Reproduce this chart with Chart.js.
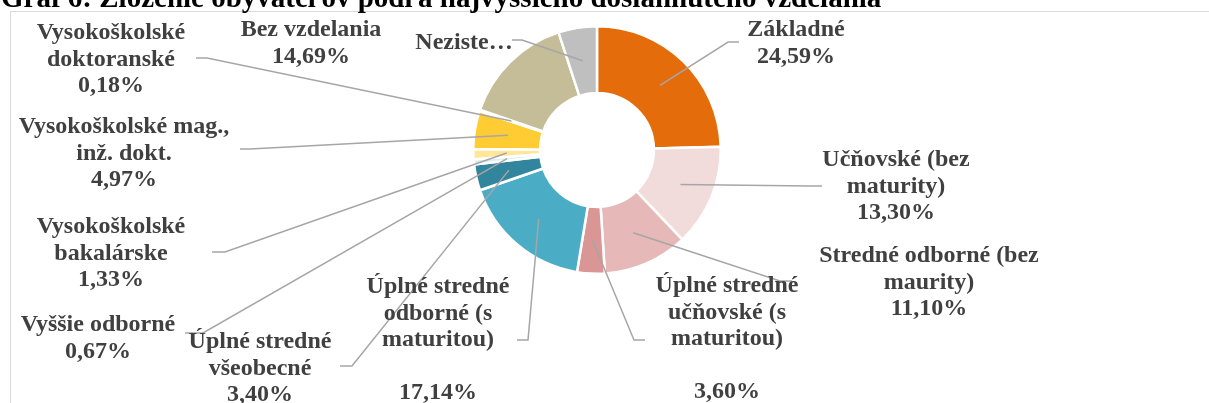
<!DOCTYPE html>
<html>
<head>
<meta charset="utf-8">
<script src="https://cdn.jsdelivr.net/npm/chart.js@4"></script>
<style>
  html, body { margin: 0; padding: 0; background: #fff; overflow: hidden; }
  #wrap { position: relative; width: 1209px; height: 403px; }
  #title {
    position: absolute; left: 1px; top: -19px; white-space: nowrap;
    font: bold 29px "Liberation Serif", "Times New Roman", serif; color: #000;
  }
  #chart { position: absolute; left: 0; top: 0; }
</style>
</head>
<body>
<div id="wrap">
  <canvas id="chart" width="1209" height="403"></canvas>
  <div id="title">Graf 6: Zloženie obyvateľov podľa najvyššieho dosiahnutého vzdelania</div>
</div>
<script>
// Data
const categories = [
  "Základné",
  "Učňovské (bez maturity)",
  "Stredné odborné (bez maurity)",
  "Úplné stredné učňovské (s maturitou)",
  "Úplné stredné odborné (s maturitou)",
  "Úplné stredné všeobecné",
  "Vyššie odborné",
  "Vysokoškolské bakalárske",
  "Vysokoškolské mag., inž. dokt.",
  "Vysokoškolské doktoranské",
  "Bez vzdelania",
  "Nezistené"
];
const shares = [24.59, 13.30, 11.10, 3.60, 17.14, 3.40, 0.67, 1.33, 4.97, 0.18, 14.69, 5.03];
const colors = [
  "#E46C0A", "#F2DCDB", "#E6B9B8", "#D99694", "#4BACC6", "#31859C",
  "#DAEEF3", "#FFE699", "#FFCD33", "#FFD966", "#C4BD97", "#BFBFBF"
];

// Label layout (wrapped text, centre x, first line y, leader elbow + end)
const labelLayout = [
  { x: 796, y: 30,  lines: ["Základné"], pct: true, path: [[728, 42], [739, 42]] },
  { x: 896, y: 160, lines: ["Učňovské (bez", "maturity)"], pct: true, path: [[810, 186], [822, 186]] },
  { x: 929, y: 256, lines: ["Stredné odborné (bez", "maurity)"], pct: true, path: [[780, 281], [792, 281]] },
  { x: 727, y: 286, lines: ["Úplné stredné", "učňovské (s", "maturitou)", ""], pct: true, path: [[634, 340], [645, 340]] },
  { x: 438, y: 287, lines: ["Úplné stredné", "odborné (s", "maturitou)", ""], pct: true, path: [[528, 340], [517, 340]] },
  { x: 260, y: 342, lines: ["Úplné stredné", "všeobecné"], pct: true, path: [[352, 366], [340, 366]] },
  { x: 98,  y: 325, lines: ["Vyššie odborné"], pct: true, path: [[203, 333], [185, 333]] },
  { x: 111, y: 227, lines: ["Vysokoškolské", "bakalárske"], pct: true, path: [[225, 252], [212, 252]] },
  { x: 124, y: 127, lines: ["Vysokoškolské mag.,", "inž. dokt."], pct: true, path: [[250, 149], [240, 149]] },
  { x: 111, y: 33,  lines: ["Vysokoškolské", "doktoranské"], pct: true, path: [[207, 58], [196, 58]] },
  { x: 311, y: 30,  lines: ["Bez vzdelania"], pct: true, path: null },
  { x: 464, y: 43,  lines: ["Neziste…"], pct: false, path: [[522, 40], [512, 40]] }
];
const lineHeight = 26.5;

function fmtPct(v) {
  return v.toFixed(2).replace(".", ",") + "%";
}

// frame, leader lines and labels
const outsideLabels = {
  id: "outsideLabels",
  beforeDraw(chart) {
    const ctx = chart.ctx;
    ctx.save();
    ctx.strokeStyle = "#D9D9D9";
    ctx.lineWidth = 1;
    ctx.strokeRect(10.5, 11.5, 1300, 500);
    ctx.restore();
  },
  afterDatasetsDraw(chart) {
    const ctx = chart.ctx;
    const arcs = chart.getDatasetMeta(0).data;
    ctx.save();
    ctx.strokeStyle = "#A6A6A6";
    ctx.lineWidth = 1.5;
    labelLayout.forEach((lab, i) => {
      if (!lab.path) return;
      const p = arcs[i].tooltipPosition();
      ctx.beginPath();
      ctx.moveTo(p.x, p.y);
      lab.path.forEach(pt => ctx.lineTo(pt[0], pt[1]));
      ctx.stroke();
    });
    ctx.fillStyle = "#404040";
    ctx.font = 'bold 24px "Liberation Serif", "Times New Roman", serif';
    ctx.textAlign = "center";
    ctx.textBaseline = "middle";
    labelLayout.forEach((lab, i) => {
      const rows = lab.lines.slice();
      if (lab.pct) rows.push(fmtPct(shares[i]));
      rows.forEach((t, k) => {
        if (t) ctx.fillText(t, lab.x, lab.y + k * lineHeight);
      });
    });
    ctx.restore();
  }
};

new Chart(document.getElementById("chart").getContext("2d"), {
  type: "doughnut",
  data: {
    labels: categories,
    datasets: [{
      data: shares,
      backgroundColor: colors,
      borderColor: "#FFFFFF",
      borderWidth: 2.5
    }]
  },
  options: {
    responsive: false,
    animation: false,
    cutout: "46%",
    layout: { padding: { left: 472, right: 487, top: 25, bottom: 128 } },
    plugins: {
      legend: { display: false },
      tooltip: { enabled: false }
    }
  },
  plugins: [outsideLabels]
});
</script>
</body>
</html>
